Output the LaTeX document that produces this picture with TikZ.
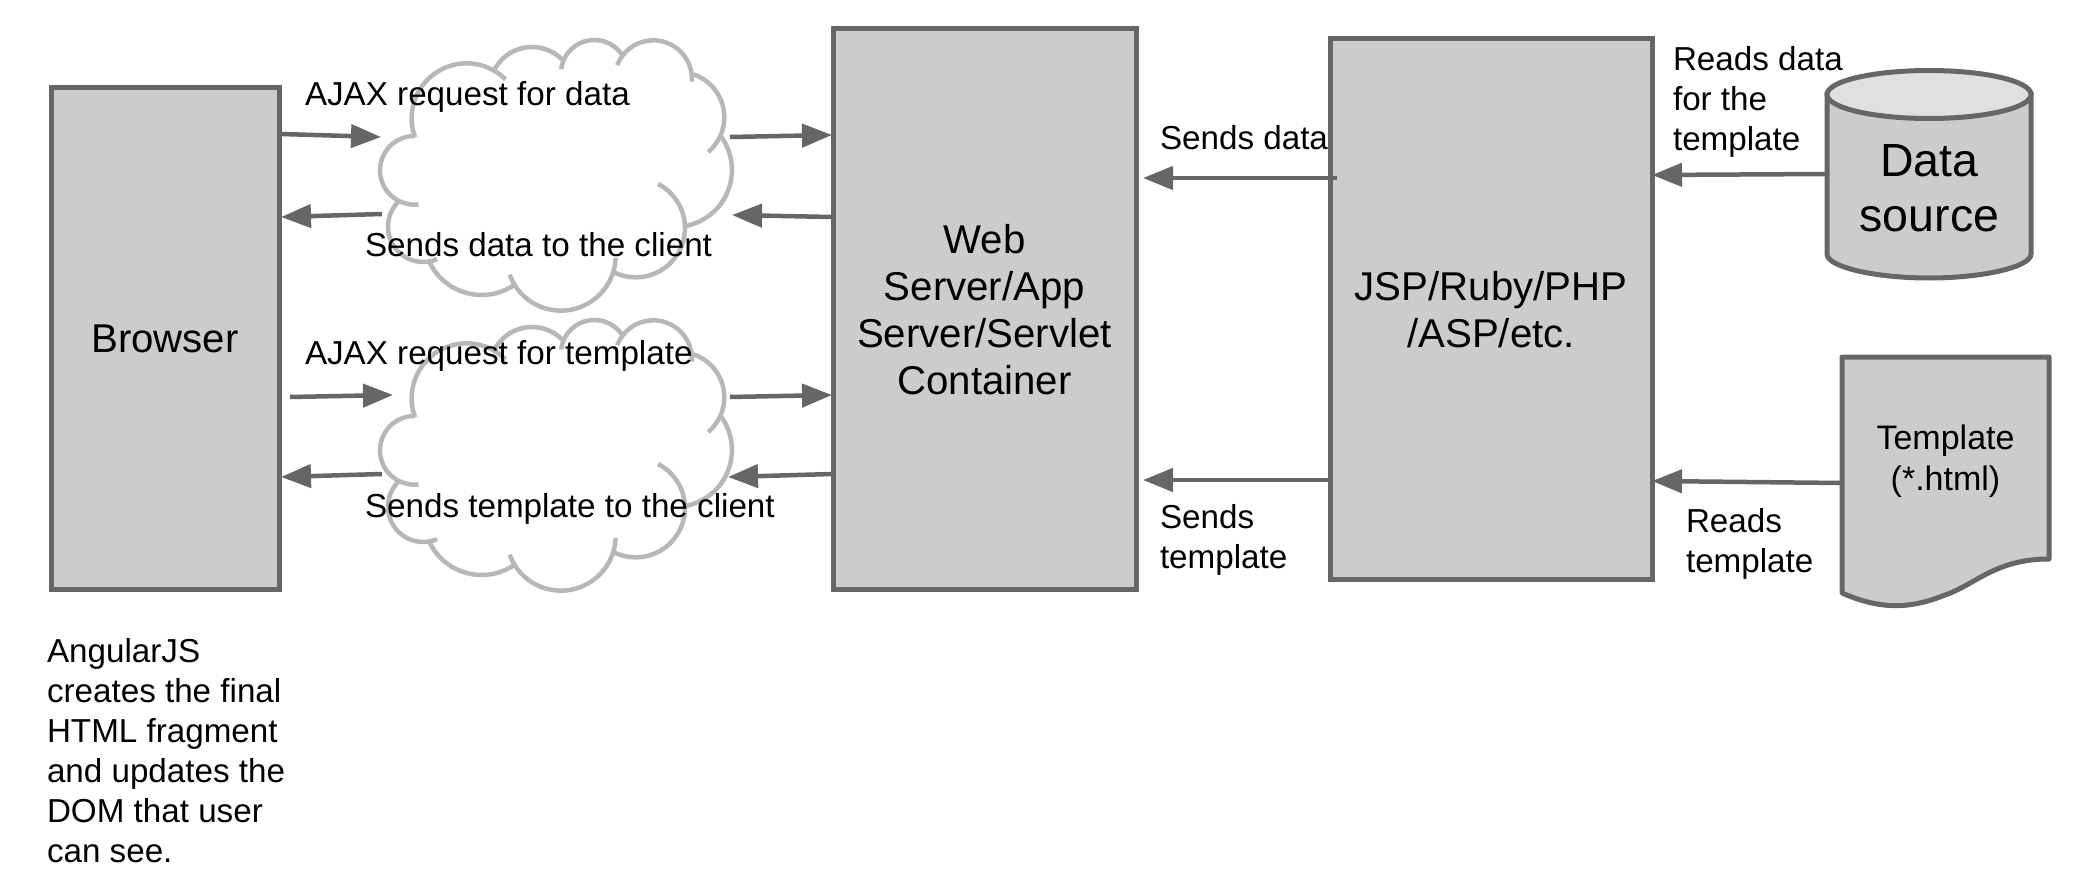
\documentclass[tikz,border=0pt]{standalone}
\usepackage{fontspec}
\setmainfont{Liberation Sans}
\usetikzlibrary{arrows.meta}
\definecolor{boxfill}{HTML}{CCCCCC}
\definecolor{boxline}{HTML}{666666}
\definecolor{cloudline}{HTML}{B7B7B7}
\definecolor{lidfill}{HTML}{E0E0E0}
% one scallop of a cloud: centre x, centre y, radius, start angle, end angle
\newcommand{\lobe}[5]{\draw[cloudstroke] plot[smooth,domain=#4:#5,samples=30] ({#1+#3*cos(\x)},{#2+#3*sin(\x)});}
\newcommand{\cloudarcs}{%
  \lobe{163}{451}{103}{271}{83}
  \lobe{190}{620}{106}{223}{67}
  \lobe{365}{651}{174}{157}{57}
  \lobe{603}{708}{164}{160}{2}
  \lobe{827}{624}{148}{118}{-63}
  \lobe{945}{450}{171}{80}{-38}
  \lobe{957}{292}{136}{-71}{50}
  \lobe{880}{177}{116}{4}{-159}
  \lobe{703}{160}{100}{-36}{-173}
  \lobe{516}{208}{127}{-45}{-152}
  \lobe{320}{295}{165}{-45}{-200}
}
\tikzset{
  cloudstroke/.style={draw=cloudline,line width=4.5pt},
  procbox/.style={draw=boxline,fill=boxfill,line width=5pt,outer sep=0pt,inner sep=0pt},
  boxtext/.style={inner sep=0pt,outer sep=0pt,align=center,font=\fontsize{40.2}{47}\selectfont,yshift=-0.8pt},
  shapeborder/.style={draw=boxline,fill=boxfill,line width=5pt},
  arr/.style={draw=boxline,line width=4.5pt,-{Triangle[length=30pt,width=23pt]}},
  lbl/.style={anchor=north west,inner sep=0pt,outer sep=0pt,align=left,font=\fontsize{33.2}{40}\selectfont},
  ghost/.style={inner sep=0pt,outer sep=0pt},
}
\begin{document}
\begin{tikzpicture}[x=1pt,y=-1pt]
\useasboundingbox (0,0) rectangle (2096,880);
\fill[white] (0,0) rectangle (2096,880);
% boxes
\node[procbox,minimum width=228pt,minimum height=501pt,label={[boxtext]center:Browser}] (browser) at (165,338.5) {};
\node[procbox,minimum width=303pt,minimum height=561pt,label={[boxtext]center:{Web\\Server/App\\Server/Servlet\\Container}}] (web) at (984.5,309) {};
\node[procbox,minimum width=322pt,minimum height=541pt,label={[boxtext]center:{JSP/Ruby/PHP\\/ASP/etc.}}] (jsp) at (1491,309) {};
% clouds
\node[ghost,minimum width=355pt,minimum height=274pt] (cloudA) at (555.5,175) {};
\node[ghost,minimum width=355pt,minimum height=274pt] (cloudB) at (555.5,455) {};
\begin{scope}[shift={(360,20)},x=0.3333pt,y=-0.3333pt]\cloudarcs\end{scope}
\begin{scope}[shift={(360,300)},x=0.3333pt,y=-0.3333pt]\cloudarcs\end{scope}
% data source cylinder
\path[shapeborder] (1827,94.5) -- (1827,254) .. controls (1827,267) and (1875,278) .. (1929,278) .. controls (1983,278) and (2031,267) .. (2031,254) -- (2031,94.5) -- cycle;
\path[draw=boxline,fill=lidfill,line width=5pt] (1929,94.5) ellipse [x radius=102pt,y radius=24pt];
\node[ghost,align=center,minimum width=204pt,font=\fontsize{46.5}{55}\selectfont] (ds) at (1929.5,188) {Data\\source};
% template document
\path[shapeborder,line join=round] (1842,357) -- (2049,357) -- (2049,559) .. controls (1995,559) and (1975,585) .. (1945,595) .. controls (1915,607) and (1885,612) .. (1842,593) -- cycle;
\node[ghost,align=center,minimum width=207pt,font=\fontsize{34}{41}\selectfont] (doc) at (1945.5,461.5) {Template\\(*.html)};
% connectors
\draw[arr] ([shift={(2,-204.5)}]browser.east) -- ([shift={(3,-38)}]cloudA.west);
\draw[arr] ([shift={(4,39)}]cloudA.west) -- ([shift={(2,-121.5)}]browser.east);
\draw[arr] ([shift={(-3,-38)}]cloudA.east) -- ([shift={(-1,-174)}]web.west);
\draw[arr] ([shift={(-1,-92)}]web.west) -- ([shift={(-1,40)}]cloudA.east);
\draw[arr] ([shift={(11,58.5)}]browser.east) -- ([shift={(15,-60)}]cloudB.west);
\draw[arr] ([shift={(4,19)}]cloudB.west) -- ([shift={(2,138.5)}]browser.east);
\draw[arr] ([shift={(-3,-58)}]cloudB.east) -- ([shift={(-1,86)}]web.west);
\draw[arr] ([shift={(-1,165)}]web.west) -- ([shift={(-5,22)}]cloudB.east);
\draw[arr] ([shift={(7,-131)}]jsp.west) -- ([shift={(7,-131)}]web.east);
\draw[arr] ([shift={(0,171)}]jsp.west) -- ([shift={(7,171)}]web.east);
\draw[arr] ([shift={(0,-14)}]ds.west) -- ([shift={(0,-134)}]jsp.east);
\draw[arr] ([shift={(0,21.5)}]doc.west) -- ([shift={(0,172)}]jsp.east);
% labels
\node[lbl] (l1) at (305,81.5) {AJAX request for data};
\node[lbl] (l2) at (365,232.5) {Sends data to the client};
\node[lbl] (l3) at (305,340.5) {AJAX request for template};
\node[lbl] (l4) at (365,493) {Sends template to the client};
\node[lbl] (l5) at (1160,125.5) {Sends data};
\node[lbl] (l6) at (1160,504.5) {Sends\\template};
\node[lbl] (l7) at (1673,46) {Reads data\\for the\\template};
\node[lbl] (l8) at (1686,508) {Reads\\template};
\node[lbl] (l9) at (47,638) {AngularJS\\creates the final\\HTML fragment\\and updates the\\DOM that user\\can see.};
\end{tikzpicture}
\end{document}
